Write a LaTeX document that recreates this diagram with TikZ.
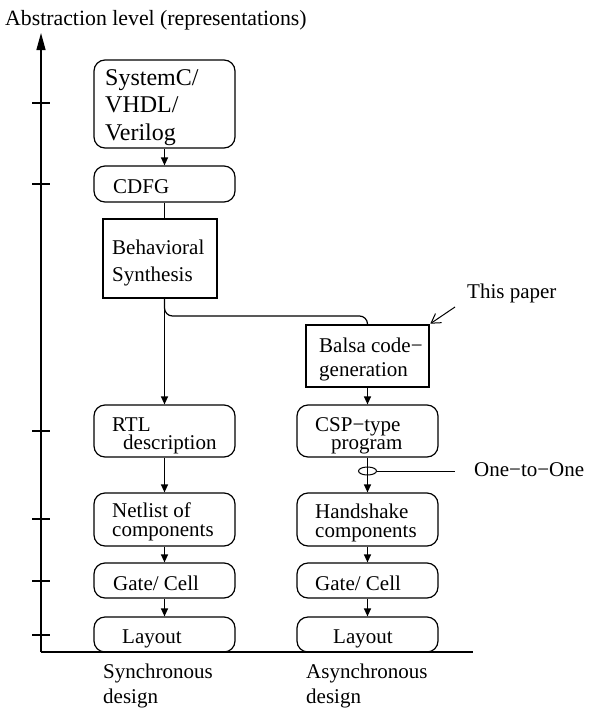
\documentclass[tikz,border=0pt]{standalone}
\usepackage{fontspec}
\setmainfont{Liberation Serif}
\usetikzlibrary{arrows.meta,shapes.geometric}
\begin{document}
\begin{tikzpicture}[x=1pt,y=-1pt,
  ln/.style={line width=1.2pt},
  rbox/.style={draw, line width=1.2pt, rounded corners=11pt, minimum width=141pt, inner sep=0pt},
  sbox/.style={draw, line width=1.2pt, inner sep=0pt},
  lbl/.style={anchor=base west, inner sep=0pt, font=\fontsize{21}{21}\selectfont},
  big/.style={anchor=base west, inner sep=0pt, font=\fontsize{24}{24}\selectfont},
  flow/.style={line width=1.2pt, -{Triangle[length=8pt,width=7pt]}},
  tick/.style={line width=1.2pt}]
\useasboundingbox (0,0) rectangle (593,710);

% axes
\coordinate (origin) at (41,652);
\coordinate (ytop) at (41,33);
\coordinate (xend) at (473,652);
\draw[ln, -{Triangle[length=17pt,width=9pt]}] (origin) -- (ytop);
\draw[ln] (origin) -- (xend);
\foreach \y in {103,184,431,519,581,635}
  \draw[tick] (32,\y) -- (50,\y);
\node[lbl, font=\fontsize{21.8}{22}\selectfont] (axistitle) at (5,25) {Abstraction level (representations)};

% boxes
\node[rbox, minimum height=88pt] (hdl) at (164.5,104) {};
\node[rbox, minimum height=36pt] (cdfg) at (164.5,184) {};
\node[sbox, minimum width=114pt, minimum height=79pt] (beh) at (160,258.5) {};
\node[sbox, line width=2.6pt, minimum width=123pt, minimum height=62pt] (balsa) at (367.5,356) {};
\node[rbox, minimum height=52pt] (rtl) at (164.5,431) {};
\node[rbox, minimum height=52pt] (csp) at (367.5,431) {};
\node[rbox, minimum height=53pt] (net) at (164.5,519.5) {};
\node[rbox, minimum height=53pt] (hs) at (367.5,519.5) {};
\node[rbox, minimum height=35pt] (gateS) at (164.5,580.5) {};
\node[rbox, minimum height=35pt] (gateA) at (367.5,580.5) {};
\node[rbox, minimum height=35pt] (layS) at (164.5,634.5) {};
\node[rbox, minimum height=35pt] (layA) at (367.5,634.5) {};

% box texts
\node[big] (hdl1) at (105,85) {SystemC/};
\node[big] (hdl2) at (105,112) {VHDL/};
\node[big] (hdl3) at (105,140) {Verilog};
\node[lbl] (cdfgT) at (113,193) {CDFG};
\node[lbl] (beh1) at (112,254) {Behavioral};
\node[lbl] (beh2) at (112,281) {Synthesis};
\node[lbl] (bal1) at (319,352) {Balsa code−};
\node[lbl] (bal2) at (319,376) {generation};
\node[lbl] (rtl1) at (112,431) {RTL};
\node[lbl] (rtl2) at (123,449) {description};
\node[lbl] (csp1) at (315,431) {CSP−type};
\node[lbl] (csp2) at (331,449) {program};
\node[lbl] (net1) at (112,517) {Netlist of};
\node[lbl] (net2) at (112,536) {components};
\node[lbl] (hs1) at (315,518) {Handshake};
\node[lbl] (hs2) at (315,537) {components};
\node[lbl] (gateST) at (113,590) {Gate/ Cell};
\node[lbl] (gateAT) at (315,590) {Gate/ Cell};
\node[lbl] (layST) at (122,643) {Layout};
\node[lbl] (layAT) at (333,643) {Layout};

% column captions
\node[lbl] (sync1) at (103,678) {Synchronous};
\node[lbl] (sync2) at (103,703) {design};
\node[lbl] (async1) at (306,678) {Asynchronous};
\node[lbl] (async2) at (306,703) {design};

% synchronous flow
\draw[flow] (hdl) -- (cdfg);
\draw[ln] (cdfg.south) -- (cdfg.south |- beh.north);
\draw[flow] (cdfg.south |- beh.south) -- (rtl.north);
\draw[flow] (rtl) -- (net);
\draw[flow] (net) -- (gateS);
\draw[flow] (gateS) -- (layS);

% branch to the asynchronous flow
\coordinate (j1) at (164.5,316);
\coordinate (j2) at (367.5,316);
\draw[ln, rounded corners=8pt] (cdfg.south |- beh.south) -- (j1) -- (j2) -- (balsa.north);

% asynchronous flow
\draw[flow] (balsa) -- (csp);
\draw[flow] (csp) -- (hs);
\draw[flow] (hs) -- (gateA);
\draw[flow] (gateA) -- (layA);

% one-to-one marker
\node[draw, ellipse, line width=1pt, minimum width=18pt, minimum height=8pt, inner sep=0pt] (oto) at (367.5,471) {};
\coordinate (otoEnd) at (455,471);
\draw[line width=1pt] (oto.east) -- (otoEnd);
\node[lbl] (otoT) at (474,476) {One−to−One};

% pointer to the new step
\node[lbl] (paper) at (467,298) {This paper};
\coordinate (paperTail) at (455,307);
\draw[line width=1pt, -{Straight Barb[length=9pt,width=11pt]}] (paperTail) -- (balsa.north east);
\end{tikzpicture}
\end{document}
